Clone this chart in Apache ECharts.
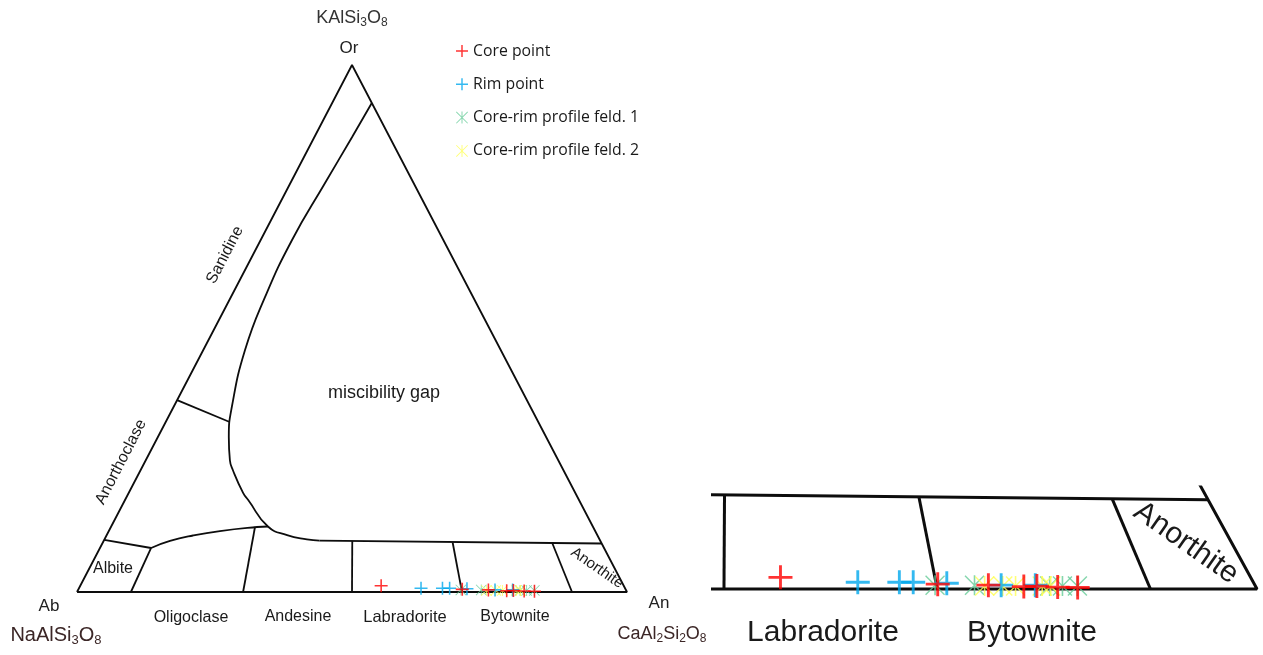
<!DOCTYPE html>
<html><head><meta charset="utf-8">
<script src="https://cdn.jsdelivr.net/npm/echarts@6/dist/echarts.min.js"></script>
<style>html,body{margin:0;padding:0;background:#fff}#c{width:1263px;height:655px}</style>
</head><body><div id="c"></div>
<script>
// Ternary coordinates [An %, Or %] (Ab = 100 - An - Or)
const triangleOutline = [[0,0],[0,100],[100,0],[0,0]];
const solvusCurve = [[7.2,92.8],[6.85,86.3],[6.3,77.6],[5.7,66.8],[6.2,56.0],[7.6,45.9],[10.6,35.1],[12.9,29.4],[15.3,25.0],[16.8,23.1],[20.8,18.8],[22.35,17.5],[28.5,12.43],[32.8,10.8],[36.8,10.0],[39.2,9.75]];
const plagioclaseTop = [[39.2,9.75],[90.8,9.2]];
const anorthoclaseLine = [[0,36.4],[11.5,32.3]];
const albiteTop = [[0,9.9],[9.3,8.35]];
const albiteRight = [[9.3,8.35],[9.8,0]];
const oligoclaseTop = [[9.3,8.35],[12.07,9.68],[15.73,10.72],[20.2,11.57],[26.56,12.33],[28.5,12.43]];
const oligoclaseAndesine = [[26.2,12.33],[30.2,0]];
const andesineLabradorite = [[45.2,9.7],[50,0]];
const labradoriteBytownite = [[63.6,9.4],[70,0]];
const bytowniteAnorthite = [[81.8,9.25],[90.0,0]];

// Measured feldspar analyses [An %, Or %]
const corePoints = [[54.7,1.2],[69.8,0.5],[74.6,0.4],[78.0,0.25],[79.2,0.3],[81.2,0.2],[83.1,0.15]];
const rimPoints = [[62.2,0.7],[66.1,0.7],[67.4,0.7],[70.6,0.6],[75.8,0.4],[79.0,0.4]];
const profile1Points = [[69.6,0.4],[73.3,0.4],[80.4,0.3],[81.6,0.3],[83.0,0.3]];
const profile2Points = [[74.3,0.3],[76.0,0.3],[77.2,0.3],[79.7,0.3],[80.5,0.3]];

const seriesNames = ['Core point','Rim point','Core-rim profile feld. 1','Core-rim profile feld. 2'];
const seriesColors = ['#ff0000','#00a8ec','#66cc99','#ffff55'];

function toXY(p){ return [p[0] + p[1]/2, p[1]]; }

const PLUS = 'path://M4.4,0H5.6V10H4.4ZM0,4.4H10V5.6H0Z';
const STAR = 'path://M4.6,0H5.4V10H4.6ZM0,0.5L0.5,0L10,9.5L9.5,10ZM9.5,0L10,0.5L0.5,10L0,9.5Z';

const boundaries = [
  [triangleOutline,false],[solvusCurve,true],[plagioclaseTop,false],[anorthoclaseLine,false],
  [albiteTop,false],[albiteRight,false],[oligoclaseTop,true],[oligoclaseAndesine,false],
  [andesineLabradorite,false],[labradoriteBytownite,false],[bytowniteAnorthite,false]
];

const series = [];
[0,1].forEach(function(g){
  boundaries.forEach(function(b){
    series.push({type:'line', xAxisIndex:g, yAxisIndex:g, data:b[0].map(toXY), symbol:'none',
      smooth: b[1] ? 0.5 : false,
      lineStyle:{color:'#0d0d0d', width: g ? 3 : 1.8}, clip: g === 1, silent:true, z:2});
  });
  const sets = [[profile1Points,2,STAR],[profile2Points,3,STAR],[rimPoints,1,PLUS],[corePoints,0,PLUS]];
  sets.forEach(function(s){
    const isPlus = s[2] === PLUS;
    series.push({type:'scatter', name: seriesNames[s[1]], xAxisIndex:g, yAxisIndex:g,
      data: s[0].map(toXY), symbol: s[2],
      symbolSize: g ? (isPlus ? 24 : 20) : (isPlus ? 13 : 11),
      itemStyle:{color: seriesColors[s[1]]}, clip:false, z:5});
  });
});

function txt(text, x, y, size, opts){
  opts = opts || {};
  return {type:'text', x:x, y:y, rotation: (opts.rot||0)*Math.PI/180, z:10,
    style:{text:text, fontSize:size, fontFamily:'Liberation Sans', fill: opts.color||'#1a1a1a',
      align:'center', verticalAlign:'middle', rich: opts.rich}};
}
function subRich(color, size){ return {s:{fontSize:size||12, fontFamily:'Liberation Sans', fill:color, padding:[10,0,0,0]}}; }

const graphics = [
  txt('KAlSi{s|3}O{s|8}', 352, 18, 18, {color:'#333', rich: subRich('#333')}),
  txt('Or', 349, 48, 17, {color:'#222'}),
  txt('Ab', 49, 606, 17, {color:'#222'}),
  txt('NaAlSi{s|3}O{s|8}', 56, 635, 20, {color:'#3b2626', rich: subRich('#3b2626', 13)}),
  txt('An', 659, 603, 17, {color:'#222'}),
  txt('CaAl{s|2}Si{s|2}O{s|8}', 662, 634, 18, {color:'#3b2626', rich: subRich('#3b2626')}),
  txt('miscibility gap', 384, 393, 18),
  txt('Sanidine', 225, 255, 16, {rot:62.6}),
  txt('Anorthoclase', 121, 462, 16, {rot:62.6}),
  txt('Albite', 113, 569, 16),
  txt('Oligoclase', 191, 618, 16),
  txt('Andesine', 298, 617, 16),
  txt('Labradorite', 405, 617, 16.5),
  txt('Bytownite', 515, 617, 16),
  txt('Anorthite', 597, 568, 15, {rot:-35}),
  txt('Labradorite', 823, 633, 30),
  txt('Bytownite', 1032, 633, 30),
  txt('Anorthite', 1186, 543, 30, {rot:-35})
];

const chart = echarts.init(document.getElementById('c'), null, {renderer:'canvas'});
chart.setOption({
  animation:false,
  backgroundColor:'#fff',
  grid:[
    {left:77, top:65, width:550, height:527},
    {left:713, top:487, width:550, height:106}
  ],
  xAxis:[
    {type:'value', gridIndex:0, min:0, max:100, show:false},
    {type:'value', gridIndex:1, min:48.97, max:100.56, show:false}
  ],
  yAxis:[
    {type:'value', gridIndex:0, min:0, max:100, show:false},
    {type:'value', gridIndex:1, min:-0.41, max:10.5, show:false}
  ],
  legend:{data:seriesNames, orient:'vertical', left:451, top:38, itemWidth:12, itemHeight:12, itemGap:17.3,
    selectedMode:false, textStyle:{fontFamily:'Open Sans', fontSize:15.8, color:'#1a1a1a', lineHeight:16}},
  graphic: graphics,
  series: series
});
</script></body></html>
